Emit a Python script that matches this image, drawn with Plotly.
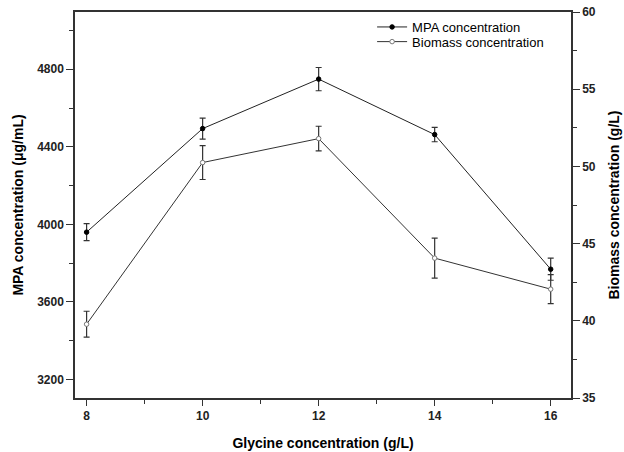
import plotly.graph_objects as go

glycine = [8, 10, 12, 14, 16]
mpa = [3960, 4494, 4749, 4463, 3769]
mpa_err = [44, 54, 60, 37, 57]
biomass = [39.78, 50.25, 51.8, 44.06, 42.05]
biomass_err = [0.84, 1.1, 0.8, 1.3, 0.94]

FONT = "Liberation Sans"
AX = "#333333"

fig = go.Figure()
fig.add_trace(go.Scatter(
    x=glycine, y=mpa, name="MPA concentration", mode="lines+markers",
    line=dict(color="#222222", width=1),
    marker=dict(symbol="circle", size=4.5, color="#000000", line=dict(color="#000000", width=1)),
    error_y=dict(type="data", array=mpa_err, color=AX, thickness=1.2, width=3),
    yaxis="y", legend="legend"))
fig.add_trace(go.Scatter(
    x=glycine, y=biomass, name="Biomass concentration", mode="lines+markers",
    line=dict(color="#333333", width=1),
    marker=dict(symbol="circle", size=4.5, color="#ffffff", line=dict(color="#777777", width=1)),
    error_y=dict(type="data", array=biomass_err, color=AX, thickness=1.2, width=3),
    yaxis="y2", legend="legend2"))

tickfont = dict(family=FONT, size=12, color="#222222", weight="bold")
titlefont = dict(family=FONT, size=14, color="#000000", weight="bold")
legfont = dict(family=FONT, size=13, color="#000000")

fig.update_layout(
    width=624, height=452,
    margin=dict(l=75, r=53, t=12, b=54),
    plot_bgcolor="white", paper_bgcolor="white",
    showlegend=True,
    legend=dict(x=0.599, y=1.0, xanchor="left", yanchor="top",
                bgcolor="rgba(0,0,0,0)", font=legfont, itemwidth=30),
    legend2=dict(x=0.599, y=0.962, xanchor="left", yanchor="top",
                 bgcolor="rgba(0,0,0,0)", font=legfont, itemwidth=30),
    xaxis=dict(range=[7.8, 16.35], tickvals=[8, 10, 12, 14, 16], automargin=False,
               showline=True, linecolor=AX, linewidth=1.5, mirror=True,
               ticks="outside", ticklen=6, tickwidth=1.2, tickcolor=AX,
               minor=dict(dtick=1, tick0=8, ticks="outside", ticklen=4, tickcolor=AX, tickwidth=1),
               showgrid=False, zeroline=False, tickfont=tickfont,
               title=dict(text="Glycine concentration (g/L)", font=titlefont, standoff=16)),
    yaxis=dict(range=[3105, 5095], tickvals=[3200, 3600, 4000, 4400, 4800], automargin=False,
               showline=True, linecolor=AX, linewidth=1.5,
               ticks="outside", ticklen=7, tickwidth=1.2, tickcolor=AX,
               minor=dict(dtick=200, tick0=3200, ticks="outside", ticklen=4, tickcolor=AX, tickwidth=1),
               showgrid=False, zeroline=False, tickfont=tickfont,
               title=dict(text="MPA concentration (μg/mL)", font=titlefont, standoff=10)),
    yaxis2=dict(range=[35, 60], tickvals=[35, 40, 45, 50, 55, 60], overlaying="y", side="right",
                automargin=False,
                showline=True, linecolor=AX, linewidth=1.5,
                ticks="outside", ticklen=7, tickwidth=1.2, tickcolor=AX,
                minor=dict(dtick=2.5, tick0=35, ticks="outside", ticklen=4, tickcolor=AX, tickwidth=1),
                showgrid=False, zeroline=False, tickfont=tickfont,
                title=dict(text="Biomass concentration (g/L)", font=titlefont, standoff=14)),
)

fig.write_html("out.html")
